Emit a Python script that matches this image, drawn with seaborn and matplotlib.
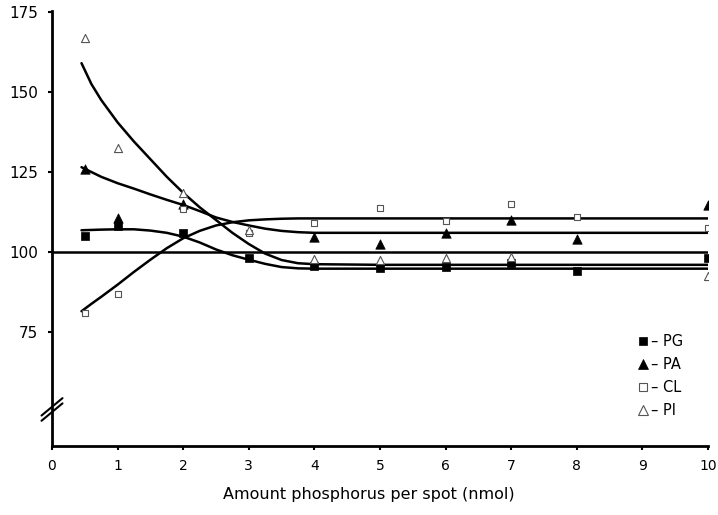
import numpy as np
import pandas as pd
import matplotlib
matplotlib.use("Agg")
import matplotlib.pyplot as plt
from matplotlib.lines import Line2D
import seaborn as sns

# ---- data ----
x_points = [0.5, 1, 2, 3, 4, 5, 6, 7, 8, 10]
pg_points = [105, 108, 106, 98, 95.6, 95, 95.3, 96.5, 94, 98]
pa_points = [126, 110.5, 115, np.nan, 104.7, 102.5, 106, 110, 104, 114.7]
cl_points = [81, 87, 113.4, 106, 109, 113.6, 109.6, 115, 111, 107.5]
pi_points = [167, 132.5, 118.4, 107, 97.8, 97.5, 98, 98.4, np.nan, 92.5]

x_curve = [0.45, 0.6, 0.75, 1, 1.25, 1.5, 1.75, 2, 2.25, 2.5, 2.75, 3, 3.25, 3.5,
           3.75, 4, 5, 6, 7, 8, 9, 10]
pi_curve = [159, 152.5, 147.5, 140.5, 134.5, 129, 123.5, 118.5, 114, 110, 106,
            102.5, 99.5, 97.5, 96.5, 96.2, 96, 96, 96, 96, 96, 96]
pa_curve = [126.5, 125, 123.5, 121.5, 119.8, 118, 116.3, 114.7, 112.8, 110.8,
            109.4, 108.3, 107.3, 106.6, 106.2, 106, 106, 106, 106, 106, 106, 106]
pg_curve = [106.8, 106.9, 107, 107.1, 107.1, 106.7, 106, 104.8, 103, 100.8, 99,
            97.6, 96.3, 95.3, 94.9, 94.8, 94.8, 94.8, 94.8, 94.8, 94.8, 94.8]
cl_curve = [81.5, 83.8, 86, 89.8, 93.8, 97.6, 101.2, 104.3, 106.6, 108.3, 109.3,
            109.9, 110.2, 110.4, 110.5, 110.5, 110.5, 110.5, 110.5, 110.5, 110.5,
            110.5]

series_names = ["PG", "PA", "CL", "PI"]
x_ticks = [0, 1, 2, 3, 4, 5, 6, 7, 8, 9, 10]
y_ticks = [75, 100, 125, 150, 175]
x_label = "Amount phosphorus per spot (nmol)"

# ---- styling ----
sns.set_theme(style="ticks")
plt.rcParams["font.family"] = ["DejaVu Sans"]
plt.rcParams["text.color"] = "black"
plt.rcParams["axes.labelcolor"] = "black"

fig = plt.figure(figsize=(7.18, 5.15), dpi=100)
ax = fig.add_axes([52 / 718, 1 - 446 / 515, 656 / 718, 435 / 515])

points = {"PG": pg_points, "PA": pa_points, "CL": cl_points, "PI": pi_points}
curves = {"PG": pg_curve, "PA": pa_curve, "CL": cl_curve, "PI": pi_curve}
styles = {
    "PG": dict(marker="s", s=34, color="black", edgecolor="black", linewidth=0.5),
    "PA": dict(marker="^", s=46, color="black", edgecolor="black", linewidth=0.5),
    "CL": dict(marker="s", s=24, color="white", edgecolor="#555555", linewidth=0.8),
    "PI": dict(marker="^", s=34, color="white", edgecolor="#555555", linewidth=0.8),
}

# reference line at 100
ax.axhline(100, color="black", lw=1.8, zorder=2)

for name in series_names:
    dfc = pd.DataFrame({"x": x_curve, "y": curves[name]})
    sns.lineplot(data=dfc, x="x", y="y", ax=ax, color="black", lw=1.8,
                 sort=False, zorder=2)
for name in series_names:
    dfp = pd.DataFrame({"x": x_points, "y": points[name]}).dropna()
    sns.scatterplot(data=dfp, x="x", y="y", ax=ax, zorder=3, **styles[name])

ax.set_xlim(0, 10)
ax.set_ylim(39.4, 175.3)
ax.set_xticks(x_ticks)
ax.set_xticklabels([str(t) for t in x_ticks], fontsize=10)
ax.set_yticks(y_ticks)
ax.set_yticklabels([str(t) for t in y_ticks], fontsize=11)
ax.tick_params(axis="x", length=3, width=1.5, pad=6, colors="black")
ax.tick_params(axis="y", length=3, width=1.5, pad=7, colors="black")
for sp in ["top", "right"]:
    ax.spines[sp].set_visible(False)
for sp in ["left", "bottom"]:
    ax.spines[sp].set_linewidth(2)
    ax.spines[sp].set_color("black")

ax.set_ylabel("")
ax.set_xlabel(x_label, fontsize=11.5, color="black")
ax.xaxis.set_label_coords((369 - 52) / 656, (446 - 487) / 435)

# axis break marks
for off in (0.0, 0.012):
    ax.plot([-0.016, 0.016], [0.07 - off, 0.11 - off], transform=ax.transAxes,
            color="black", lw=1.5, clip_on=False, zorder=5)

# legend
handles = [Line2D([], [], linestyle="none", marker=styles[n]["marker"],
                  markersize=6 if styles[n]["marker"] == "s" else 7,
                  markerfacecolor=styles[n]["color"],
                  markeredgecolor=styles[n]["edgecolor"],
                  markeredgewidth=styles[n]["linewidth"]) for n in series_names]
labels = ["\u2013 " + n for n in series_names]
leg = ax.legend(handles, labels, loc="upper left",
                bbox_to_anchor=((636 - 52) / 656, (446 - 334) / 435),
                frameon=False, fontsize=10.5, handlelength=0.9,
                handletextpad=0.1, labelspacing=0.55, borderpad=0,
                borderaxespad=0, labelcolor="black")

fig.savefig("out.png", dpi=100, facecolor="white")
